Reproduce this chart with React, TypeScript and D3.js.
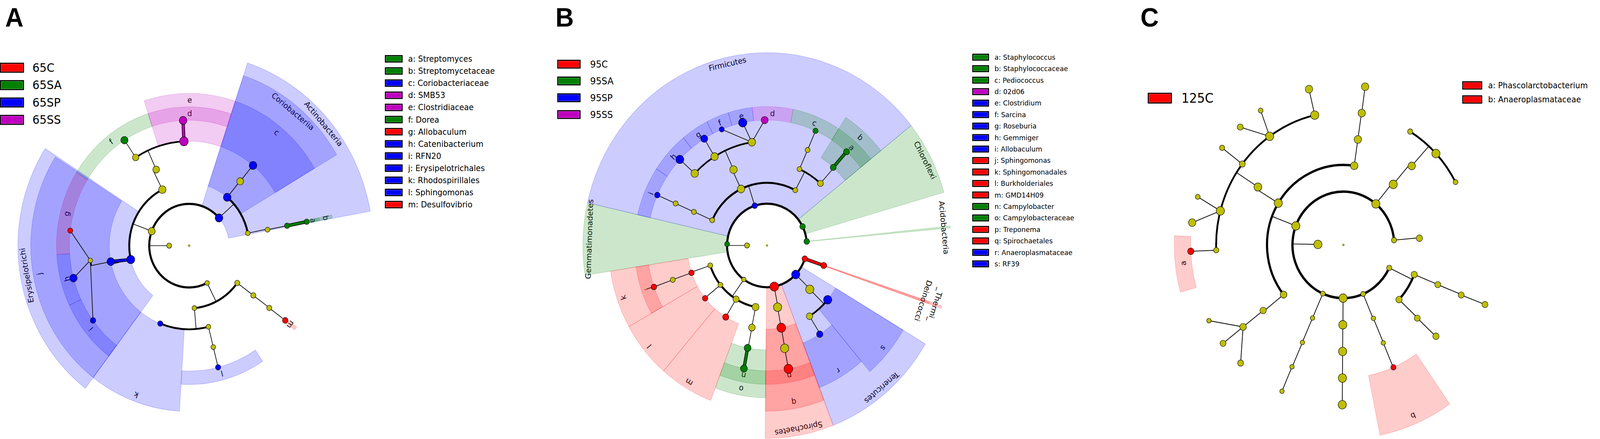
import React from "react";
import * as d3 from "d3";

// ---------- colours ----------
const PALETTE: Record<string, string> = { y: "#bfbf00", r: "#ff0000", g: "#008000", b: "#0000ff", m: "#bf00bf" };

// node rows: [id, parent, level, angle(deg, clockwise from +x), colour, dotRadius]
type NodeRow = [string, string, number, number, string, number];
// clade rows: [id, level, startAngle, endAngle, colour, label]
type CladeRow = [string, number, number, number, string, string];

// ================= PANEL A (65) =================
const A_NODES: NodeRow[] = [
  ["root", "", 0, 0, "y", 2.7],
  ["Bacteria", "root", 1, 180, "y", 6.7],
  ["Firmicutes", "Bacteria", 2, 200.3, "y", 9.5],
  ["Actinobacteria", "Bacteria", 2, 318.4, "b", 10.3],
  ["Proteobacteria", "Bacteria", 2, 63.2, "y", 6.3],
  ["Erysipelotrichi", "Firmicutes", 3, 167.2, "b", 10.7],
  ["Clostridia", "Firmicutes", 3, 243.4, "y", 10],
  ["Erysipelotrichales", "Erysipelotrichi", 4, 169, "b", 10],
  ["Erysipelotrichaceae", "Erysipelotrichales", 5, 171.9, "y", 6],
  ["Allobaculum", "Erysipelotrichaceae", 6, 186.9, "r", 6.7],
  ["Catenibacterium", "Erysipelotrichaceae", 6, 165, "b", 10],
  ["RFN20", "Erysipelotrichaceae", 6, 143.4, "b", 7.3],
  ["Clostridiales", "Clostridia", 4, 245.6, "y", 9],
  ["Lachnospiraceae", "Clostridiales", 5, 237.6, "y", 8.6],
  ["Dorea", "Lachnospiraceae", 6, 237.3, "g", 9.7],
  ["Clostridiaceae", "Clostridiales", 5, 267, "m", 11.5],
  ["SMB53", "Clostridiaceae", 6, 267.1, "m", 10.3],
  ["Coriobacteriia", "Actinobacteria", 3, 309.5, "b", 10.3],
  ["Actinobacteria_c", "Actinobacteria", 3, 348.5, "y", 6.3],
  ["Coriobacteriales", "Coriobacteriia", 4, 309.7, "y", 9.2],
  ["Coriobacteriaceae", "Coriobacteriales", 5, 309.8, "b", 10.3],
  ["Actinomycetales", "Actinobacteria_c", 4, 349, "y", 6.3],
  ["Streptomycetaceae", "Actinomycetales", 5, 349, "g", 7],
  ["Streptomyces", "Streptomycetaceae", 6, 349, "g", 7],
  ["Alphaproteobacteria", "Proteobacteria", 3, 85, "y", 6.3],
  ["Deltaproteobacteria", "Proteobacteria", 3, 36.5, "y", 7],
  ["Desulfovibrionales", "Deltaproteobacteria", 4, 36.5, "y", 7],
  ["Desulfovibrionaceae", "Desulfovibrionales", 5, 36.6, "y", 7],
  ["Desulfovibrio", "Desulfovibrionaceae", 6, 36.6, "r", 7.5],
  ["Rhodospirillales", "Alphaproteobacteria", 4, 111.2, "b", 7],
  ["Sphingomonadales", "Alphaproteobacteria", 4, 76, "y", 6.3],
  ["Sphingomonadaceae", "Sphingomonadales", 5, 76, "y", 6.3],
  ["Sphingomonas", "Sphingomonadaceae", 6, 76, "b", 7],
];
const A_CLADES: CladeRow[] = [
  ["Actinobacteria", 2, 288.5, 349.7, "b", "Actinobacteria"],
  ["Coriobacteriia", 3, 288.5, 329.5, "b", "Coriobacteriia"],
  ["Coriobacteriaceae", 5, 288.5, 329.5, "b", "c"],
  ["Streptomycetaceae", 5, 348.4, 349.6, "g", "b"],
  ["Streptomyces", 6, 348.4, 349.6, "g", "a"],
  ["Clostridiaceae", 5, 252, 288.5, "m", "e"],
  ["SMB53", 6, 252, 288.5, "m", "d"],
  ["Dorea", 6, 211.8, 252, "g", "f"],
  ["Allobaculum", 6, 176.3, 211.8, "r", "g"],
  ["Erysipelotrichi", 3, 127.3, 212.8, "b", "Erysipelotrichi"],
  ["Erysipelotrichales", 4, 127.3, 212.3, "b", "j"],
  ["Catenibacterium", 6, 154.6, 176.3, "b", "h"],
  ["RFN20", 6, 127.3, 154.6, "b", "i"],
  ["Rhodospirillales", 4, 93.5, 127.3, "b", "k"],
  ["Sphingomonas", 6, 56.4, 93.5, "b", "l"],
  ["Desulfovibrio", 6, 35.9, 37.3, "r", "m"],
];
const A_GROUPS = ["65C", "65SA", "65SP", "65SS"];
const A_GROUP_COLORS = ["r", "g", "b", "m"];
const A_KEYS = [
  "a: Streptomyces", "b: Streptomycetaceae", "c: Coriobacteriaceae", "d: SMB53", "e: Clostridiaceae",
  "f: Dorea", "g: Allobaculum", "h: Catenibacterium", "i: RFN20", "j: Erysipelotrichales",
  "k: Rhodospirillales", "l: Sphingomonas", "m: Desulfovibrio",
];
const A_KEY_COLORS = ["g", "g", "b", "m", "m", "g", "r", "b", "b", "b", "b", "b", "r"];

// ================= PANEL B (95) =================
const B_NODES: NodeRow[] = [
  ["root", "", 0, 0, "y", 2.5],
  ["Bacteria", "root", 1, 180, "y", 6.7],
  ["Gemmatimonadetes", "Bacteria", 2, 181.9, "g", 6.7],
  ["Firmicutes", "Bacteria", 2, 252.1, "b", 7.3],
  ["Chloroflexi", "Bacteria", 2, 333.1, "g", 7.5],
  ["Acidobacteria", "Bacteria", 2, 354.5, "g", 7.5],
  ["Thermi", "Bacteria", 2, 18.6, "r", 7.5],
  ["Tenericutes", "Bacteria", 2, 44, "b", 11],
  ["Spirochaetes", "Bacteria", 2, 79.5, "r", 11.7],
  ["Proteobacteria", "Bacteria", 2, 125.5, "y", 6],
  ["Erysipelotrichi", "Firmicutes", 3, 203.8, "y", 6.7],
  ["Clostridia", "Firmicutes", 3, 244.3, "y", 10],
  ["Bacilli", "Firmicutes", 3, 298.2, "y", 6.5],
  ["Erysipelotrichales", "Erysipelotrichi", 4, 203.7, "y", 6.7],
  ["Erysipelotrichaceae", "Erysipelotrichales", 5, 203.7, "y", 6.7],
  ["Allobaculum", "Erysipelotrichaceae", 6, 203.7, "b", 7.3],
  ["Clostridiales", "Clostridia", 4, 245.2, "y", 10],
  ["Ruminococcaceae", "Clostridiales", 5, 223.6, "y", 10],
  ["Lachnospiraceae", "Clostridiales", 5, 238.3, "y", 10],
  ["Clostridiaceae", "Clostridiales", 5, 261.3, "y", 10],
  ["Gemmiger", "Ruminococcaceae", 6, 223.3, "b", 10.7],
  ["Roseburia", "Lachnospiraceae", 6, 238.4, "b", 9.3],
  ["Sarcina", "Clostridiaceae", 6, 247.8, "b", 6.7],
  ["Clostridium", "Clostridiaceae", 6, 258.3, "b", 11],
  ["02d06", "Clostridiaceae", 6, 268.9, "m", 9.3],
  ["Lactobacillales", "Bacilli", 4, 294, "y", 6.5],
  ["Bacillales", "Bacilli", 4, 312, "y", 8],
  ["Lactobacillaceae", "Lactobacillales", 5, 294, "y", 6.5],
  ["Pediococcus", "Lactobacillaceae", 6, 293.9, "g", 7],
  ["Staphylococcaceae", "Bacillales", 5, 311.6, "g", 8],
  ["Staphylococcus", "Staphylococcaceae", 6, 311.6, "g", 8],
  ["Deinococci", "Thermi", 3, 18.6, "r", 8],
  ["Mollicutes", "Tenericutes", 3, 44.4, "y", 11],
  ["RF39", "Mollicutes", 4, 40.5, "b", 11],
  ["Anaeroplasmatales", "Mollicutes", 4, 57.8, "y", 8.5],
  ["Anaeroplasmataceae", "Anaeroplasmatales", 5, 58.1, "b", 8.5],
  ["Spirochaetes_c", "Spirochaetes", 3, 79.8, "y", 11],
  ["Spirochaetales", "Spirochaetes_c", 4, 79.7, "r", 11.7],
  ["Spirochaetaceae", "Spirochaetales", 5, 79.8, "y", 11],
  ["Treponema", "Spirochaetaceae", 6, 79.7, "r", 11.7],
  ["Alphaproteobacteria", "Proteobacteria", 3, 161.4, "y", 6.7],
  ["Betaproteobacteria", "Proteobacteria", 3, 141, "y", 6.7],
  ["Deltaproteobacteria", "Proteobacteria", 3, 121.1, "y", 8.3],
  ["Epsilonproteobacteria", "Proteobacteria", 3, 101, "y", 9.3],
  ["Sphingomonadales", "Alphaproteobacteria", 4, 160.9, "r", 7.3],
  ["Sphingomonadaceae", "Sphingomonadales", 5, 160.8, "y", 6.7],
  ["Sphingomonas", "Sphingomonadaceae", 6, 160.7, "r", 7.3],
  ["Burkholderiales", "Betaproteobacteria", 4, 140.8, "r", 7.3],
  ["GMD14H09", "Deltaproteobacteria", 4, 121.1, "r", 8.3],
  ["Campylobacterales", "Epsilonproteobacteria", 4, 100.9, "y", 9],
  ["Campylobacteraceae", "Campylobacterales", 5, 101.2, "g", 9.3],
  ["Campylobacter", "Campylobacteraceae", 6, 101.1, "g", 9.3],
];
const B_CLADES: CladeRow[] = [
  ["Gemmatimonadetes", 2, 171.1, 192.8, "g", "Gemmatimonadetes"],
  ["Firmicutes", 2, 192.8, 321.5, "b", "Firmicutes"],
  ["Allobaculum", 6, 192.8, 213.5, "b", "i"],
  ["Gemmiger", 6, 213.5, 230.9, "b", "h"],
  ["Roseburia", 6, 230.9, 243.1, "b", "g"],
  ["Sarcina", 6, 243.1, 253, "b", "f"],
  ["Clostridium", 6, 253, 263.6, "b", "e"],
  ["02d06", 6, 263.6, 281.4, "m", "d"],
  ["Pediococcus", 6, 281.4, 302.8, "g", "c"],
  ["Staphylococcaceae", 5, 302.8, 321.5, "g", "b"],
  ["Staphylococcus", 6, 302.8, 321.5, "g", "a"],
  ["Chloroflexi", 2, 321.5, 344, "g", "Chloroflexi"],
  ["Acidobacteria", 2, 354.2, 354.8, "g", "Acidobacteria"],
  ["Thermi", 2, 18.3, 19.0, "r", "_Thermi_"],
  ["Deinococci", 3, 18.3, 19.0, "r", "Deinococci"],
  ["Tenericutes", 2, 30.7, 68.9, "b", "Tenericutes"],
  ["RF39", 4, 30.7, 49.5, "b", "s"],
  ["Anaeroplasmataceae", 5, 49.5, 68.9, "b", "r"],
  ["Spirochaetes", 2, 68.9, 90.6, "r", "Spirochaetes"],
  ["Spirochaetales", 4, 68.9, 90.6, "r", "q"],
  ["Treponema", 6, 68.9, 90.6, "r", "p"],
  ["Campylobacteraceae", 5, 90.6, 110.8, "g", "o"],
  ["Campylobacter", 6, 90.6, 110.8, "g", "n"],
  ["GMD14H09", 4, 110.8, 130.8, "r", "m"],
  ["Burkholderiales", 4, 130.8, 150.7, "r", "l"],
  ["Sphingomonadales", 4, 150.7, 171.1, "r", "k"],
  ["Sphingomonas", 6, 150.7, 171.1, "r", "j"],
];
const B_GROUPS = ["95C", "95SA", "95SP", "95SS"];
const B_GROUP_COLORS = ["r", "g", "b", "m"];
const B_KEYS = [
  "a: Staphylococcus", "b: Staphylococcaceae", "c: Pediococcus", "d: 02d06", "e: Clostridium",
  "f: Sarcina", "g: Roseburia", "h: Gemmiger", "i: Allobaculum", "j: Sphingomonas",
  "k: Sphingomonadales", "l: Burkholderiales", "m: GMD14H09", "n: Campylobacter",
  "o: Campylobacteraceae", "p: Treponema", "q: Spirochaetales", "r: Anaeroplasmataceae", "s: RF39",
];
const B_KEY_COLORS = ["g", "g", "g", "m", "b", "b", "b", "b", "b", "r", "r", "r", "r", "g", "g", "r", "r", "b", "b"];

// ================= PANEL C (125) =================
const C_NODES: NodeRow[] = [
  ["root", "", 0, 0, "y", 2.6],
  ["k1", "root", 1, 181, "y", 11],
  ["p1", "k1", 2, 200.9, "y", 11],
  ["p2", "k1", 2, 309.7, "y", 11],
  ["p3", "k1", 2, 354.9, "y", 7],
  ["p4", "k1", 2, 25.6, "y", 7],
  ["p5", "k1", 2, 67.1, "y", 6.5],
  ["p6", "k1", 2, 90.3, "y", 11],
  ["p7", "k1", 2, 113.8, "y", 6.5],
  ["c1", "p1", 3, 211.5, "y", 11],
  ["c2", "p1", 3, 141.5, "y", 9],
  ["c3", "p1", 3, 278.2, "y", 10],
  ["o1", "c1", 4, 212.9, "y", 10.5],
  ["f1", "o1", 5, 177.7, "y", 7],
  ["f2", "o1", 5, 194.8, "y", 11],
  ["f3", "o1", 5, 217.4, "y", 8],
  ["f4", "o1", 5, 234.6, "y", 11],
  ["f5", "o1", 5, 257, "y", 11],
  ["Phascolarctobacterium", "f1", 6, 177.7, "r", 8.5],
  ["g2", "f2", 6, 197.5, "y", 6.5],
  ["g3", "f2", 6, 188, "y", 10],
  ["g4", "f3", 6, 217.4, "y", 7],
  ["g5", "f4", 6, 227.5, "y", 8],
  ["g6", "f4", 6, 237.2, "y", 6.5],
  ["g7", "f5", 6, 257, "y", 10],
  ["o2", "c2", 4, 142, "y", 8.5],
  ["f6", "o2", 5, 142, "y", 9],
  ["g8", "f6", 6, 151.7, "y", 6],
  ["g9", "f6", 6, 142, "y", 8],
  ["g10", "f6", 6, 132.3, "y", 8],
  ["o3", "c3", 4, 278.2, "y", 10],
  ["f7", "o3", 5, 278.3, "y", 10],
  ["g11", "f7", 6, 278.2, "y", 10],
  ["c4", "p2", 3, 310.8, "y", 11],
  ["o4", "c4", 4, 312.2, "y", 10],
  ["f8", "o4", 5, 301.7, "y", 7],
  ["f9", "o4", 5, 316.7, "y", 11],
  ["f10", "o4", 5, 331.9, "y", 6.5],
  ["c5", "p3", 3, 355.2, "y", 8.5],
  ["c6", "p4", 3, 21.8, "y", 8.5],
  ["c7", "p4", 3, 43.2, "y", 8.5],
  ["o5", "c6", 4, 21.9, "y", 8],
  ["f11", "o5", 5, 22.1, "y", 8],
  ["g12", "f11", 6, 21.9, "y", 8],
  ["o6", "c7", 4, 43.4, "y", 8],
  ["f12", "o6", 5, 43.3, "y", 8.5],
  ["c8", "p5", 3, 66.8, "y", 6],
  ["o7", "c8", 4, 66.9, "y", 6],
  ["Anaeroplasmataceae", "o7", 5, 66.8, "r", 7],
  ["c9", "p6", 3, 90.4, "y", 11],
  ["o8", "c9", 4, 90.4, "y", 11],
  ["f13", "o8", 5, 90.4, "y", 11],
  ["g13", "f13", 6, 90.4, "y", 11],
  ["c10", "p7", 3, 113.8, "y", 6],
  ["o9", "c10", 4, 113.7, "y", 6],
  ["f14", "o9", 5, 113.8, "y", 6],
  ["g14", "f14", 6, 113.7, "y", 6],
];
const C_CLADES: CladeRow[] = [
  ["Phascolarctobacterium", 6, 164.5, 183, "r", "a"],
  ["Anaeroplasmataceae", 5, 55, 78.6, "r", "b"],
];
const C_GROUPS = ["125C"];
const C_GROUP_COLORS = ["r"];
const C_KEYS = ["a: Phascolarctobacterium", "b: Anaeroplasmataceae"];
const C_KEY_COLORS = ["r", "r"];

const FONT = "'DejaVu Sans', sans-serif";
const W = 4289;
const H = 1124;

type PanelProps = { nodes: NodeRow[]; clades: CladeRow[]; cx: number; cy: number; step: number; lw: number };

function Cladogram({ nodes, clades, cx, cy, step, lw }: PanelProps) {
  const rad = d3.scaleLinear().domain([0, 6]).range([0, 6 * step]);
  const ang = d3.scaleLinear().domain([0, 360]).range([0, 2 * Math.PI]);
  const ringW = 0.645 * step;
  const rMax = rad(6);
  const byId = new Map(nodes.map((n) => [n[0], n] as [string, NodeRow]));
  const xy = (lev: number, a: number): [number, number] => [
    cx + rad(lev) * Math.cos(ang(a)),
    cy + rad(lev) * Math.sin(ang(a)),
  ];
  const wedgeGen = d3.arc<any>();

  // labels (drawn below the translucent wedges, as in the original)
  const labels = clades.map((c, i) => {
    const [, lev, s, e, , lab] = c;
    const mid = (s + e) / 2;
    const r = rMax + (6 - lev + 0.5) * ringW;
    const x = cx + r * Math.cos(ang(mid));
    const y = cy + r * Math.sin(ang(mid));
    return (
      <text key={"l" + i} x={x} y={y} transform={`rotate(${mid + 90},${x},${y})`} textAnchor="middle"
        dominantBaseline="central" fontFamily={FONT} fontSize={20} fill="#000">{lab}</text>
    );
  });

  const wedges = clades.map((c, i) => {
    const [, lev, s, e, col] = c;
    const d = wedgeGen({
      innerRadius: rad(lev),
      outerRadius: rMax + (7 - lev) * ringW,
      startAngle: ang(s + 90),
      endAngle: ang(e + 90),
    }) as string;
    return (
      <path key={"w" + i} d={d} transform={`translate(${cx},${cy})`} fill={PALETTE[col]} fillOpacity={0.2}
        stroke={PALETTE[col]} strokeOpacity={0.25} strokeWidth={1.2} />
    );
  });

  const kidsMap = d3.group(nodes.filter((n) => n[1] !== ""), (n) => n[1]);
  const lines: JSX.Element[] = [];
  const arcs: JSX.Element[] = [];
  const colored: JSX.Element[] = [];
  const arcW: Record<number, number> = { 2: 5.5, 3: 5.2, 4: 4.6, 5: 4.3 };
  kidsMap.forEach((kids, pid) => {
    const p = byId.get(pid);
    if (!p || p[2] === 0) return;
    const [, , plev, pang, pcol] = p;
    const clev = plev + 1;
    if (clev === 6) {
      kids.forEach((k, j) => {
        const [x1, y1] = xy(plev, pang);
        const [x2, y2] = xy(k[2], k[3]);
        lines.push(<line key={pid + "s" + j} x1={x1} y1={y1} x2={x2} y2={y2} stroke="#000" strokeWidth={1.7 * lw} />);
      });
    } else {
      const [x1, y1] = xy(plev, pang);
      const [x2, y2] = xy(clev, pang);
      lines.push(<line key={pid + "r"} x1={x1} y1={y1} x2={x2} y2={y2} stroke="#000" strokeWidth={1.7 * lw} />);
      const lo = Math.min(pang, d3.min(kids, (k) => k[3]) as number);
      const hi = Math.max(pang, d3.max(kids, (k) => k[3]) as number);
      if (hi - lo > 0.05) {
        const pth = d3.path();
        pth.arc(cx, cy, rad(clev), ang(lo), ang(hi));
        arcs.push(<path key={pid + "a"} d={pth.toString()} fill="none" stroke="#000"
          strokeWidth={(arcW[clev] || 4) * lw} strokeLinecap="butt" />);
      }
    }
    if (kids.length === 1 && pcol !== "y" && kids[0][4] === pcol) {
      const [x1, y1] = xy(plev, pang);
      const [x2, y2] = xy(kids[0][2], kids[0][3]);
      colored.push(
        <g key={pid + "c"}>
          <line x1={x1} y1={y1} x2={x2} y2={y2} stroke="#000" strokeWidth={8.5} />
          <line x1={x1} y1={y1} x2={x2} y2={y2} stroke={PALETTE[pcol]} strokeWidth={5.5} />
        </g>
      );
    }
  });

  const dots = nodes.map((n, i) => {
    const [x, y] = xy(n[2], n[3]);
    return <circle key={"n" + i} cx={x} cy={y} r={n[5]} fill={PALETTE[n[4]]} stroke="#000"
      strokeWidth={n[2] === 0 ? 0.5 : 1.1} />;
  });

  return (
    <g>
      {labels}
      {wedges}
      {arcs}
      {lines}
      {colored}
      {dots}
    </g>
  );
}

type LegendProps = {
  items: string[]; colors: string[]; x: number; y0: number; dy: number;
  boxW: number; boxH: number; textX: number; fontSize: number; base: number;
};
function Legend({ items, colors, x, y0, dy, boxW, boxH, textX, fontSize, base }: LegendProps) {
  return (
    <g>
      {items.map((t, i) => {
        const cyy = y0 + i * dy;
        return (
          <g key={i}>
            <rect x={x} y={cyy - boxH / 2} width={boxW} height={boxH} fill={PALETTE[colors[i]]} stroke="#000" strokeWidth={2.6} />
            <rect x={x + 2.2} y={cyy - boxH / 2 + 2.2} width={boxW - 4.4} height={boxH - 4.4} fill="none"
              stroke="#fff" strokeOpacity={0.45} strokeWidth={0.8} />
            <text x={textX} y={cyy + base} fontFamily={FONT} fontSize={fontSize} fill="#000">{t}</text>
          </g>
        );
      })}
    </g>
  );
}

const PANEL_LETTERS = ["A", "B", "C"];
const PANEL_LETTER_X = [14, 1489, 3057];

export default function App() {
  return (
    <svg viewBox={`0 0 ${W} ${H}`} preserveAspectRatio="none"
      style={{ position: "absolute", left: 0, top: 0, width: "100vw", height: "100vh", background: "#fff", display: "block" }}>
      <rect x={0} y={0} width={W} height={H} fill="#fff" />
      {PANEL_LETTERS.map((l, i) => (
        <text key={l} x={PANEL_LETTER_X[i]} y={68} fontFamily="'Liberation Sans', Arial, sans-serif" fontWeight="bold"
          fontSize={68} fill="#000">{l}</text>
      ))}

      <Cladogram nodes={A_NODES} clades={A_CLADES} cx={507} cy={629} step={53.5} lw={1} />
      <Legend items={A_GROUPS} colors={A_GROUP_COLORS} x={1} y0={173.4} dy={44.5} boxW={62} boxH={23}
        textX={87} fontSize={30} base={10.5} />
      <Legend items={A_KEYS} colors={A_KEY_COLORS} x={1033} y0={150.6} dy={31.1} boxW={45} boxH={16.5}
        textX={1094} fontSize={21} base={7.5} />

      <Cladogram nodes={B_NODES} clades={B_CLADES} cx={2056} cy={628.5} step={53.5} lw={1} />
      <Legend items={B_GROUPS} colors={B_GROUP_COLORS} x={1495} y0={164.3} dy={43} boxW={60} boxH={20}
        textX={1582} fontSize={24} base={9} />
      <Legend items={B_KEYS} colors={B_KEY_COLORS} x={2607.5} y0={146.4} dy={29.4} boxW={42.5} boxH={15.2}
        textX={2666} fontSize={18} base={6.5} />

      <Cladogram nodes={C_NODES} clades={C_CLADES} cx={3601} cy={627} step={68.2} lw={1.12} />
      <Legend items={C_GROUPS} colors={C_GROUP_COLORS} x={3078} y0={251.3} dy={40} boxW={62} boxH={25}
        textX={3167} fontSize={33} base={12} />
      <Legend items={C_KEYS} colors={C_KEY_COLORS} x={3921} y0={218.7} dy={36} boxW={51} boxH={18.7}
        textX={3989} fontSize={21} base={7.5} />
    </svg>
  );
}
